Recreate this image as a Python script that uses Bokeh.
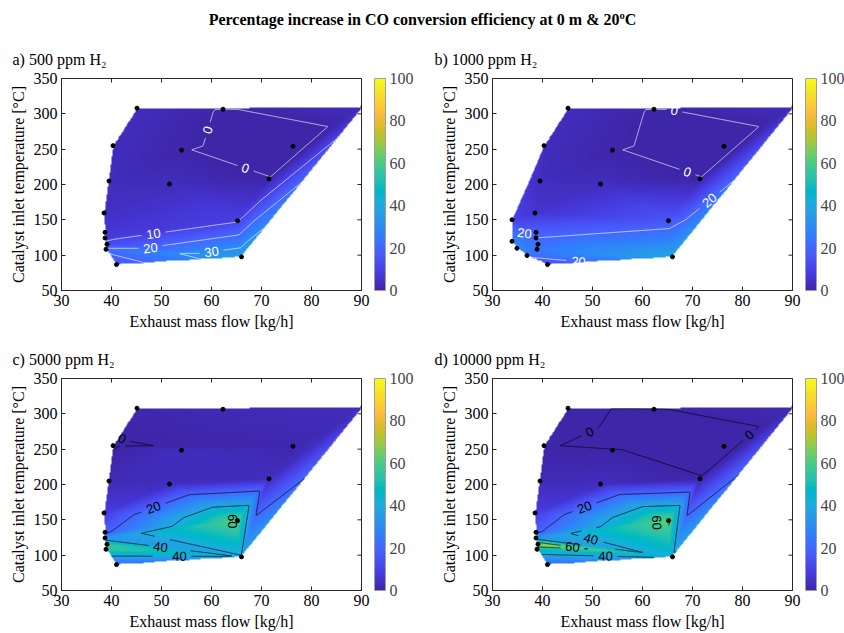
import numpy as np
import contourpy
from bokeh.plotting import figure
from bokeh.models import LinearColorMapper, ColorBar, Range1d, FixedTicker
from bokeh.layouts import column, row
from bokeh.embed import file_html
from bokeh.resources import INLINE
from bokeh.core.properties import value

SERIF = "Liberation Serif"
SANS = "Liberation Sans"
AX = "#262626"
FS = "16px"

# ---- measured operating points (exhaust mass flow [kg/h], inlet temperature [degC])
flow = [45.1, 62.3, 90.3, 40.3, 54.0, 76.3, 39.5, 51.6, 71.5, 38.5, 65.2, 38.7, 38.7, 39.1, 38.9, 66.0, 41.0]
temp = [308.0, 306.5, 310.0, 255.0, 248.6, 254.0, 205.0, 200.6, 208.0, 159.7, 148.8, 132.3, 124.4, 115.4, 108.3, 97.6, 86.7]
# additional low-flow points measured only for the 1000 ppm case
flow_extra_1000 = [33.9, 33.9, 34.9, 36.9]
temp_extra_1000 = [150.2, 119.6, 109.7, 99.4]

# ---- percentage increase in CO conversion efficiency at each point
inc_500 = [3.0, -0.3, 3.0, 3.0, 0.3, -3.0, 3.0, 3.0, 0.2, 4.0, 9.0, 6.0, 8.0, 12.0, 22.0, 37.0, 15.0]
inc_1000 = [3.0, -0.3, 3.0, 3.0, 0.3, -3.0, 3.0, 3.0, 0.2, 6.0, 15.0, 18.0, 20.0, 22.0, 25.0, 38.0, 12.0,
            10.0, 28.0, 30.0, 22.0]
inc_5000 = [1.0, 2.0, 3.0, -0.3, 3.0, 1.0, 2.0, 3.0, 3.0, 8.0, 61.5, 18.0, 32.0, 55.0, 56.0, 39.0, 20.0]
inc_10000 = [0.2, -0.2, 2.0, 0.2, 0.2, -2.0, 2.0, 3.0, 0.2, 8.0, 63.0, 18.0, 32.0, 72.0, 50.0, 42.0, 20.0]

panel_titles = ["a) 500 ppm H\u2082", "b) 1000 ppm H\u2082", "c) 5000 ppm H\u2082", "d) 10000 ppm H\u2082"]
suptitle = "Percentage increase in CO conversion efficiency at 0 m & 20\u00baC"
x_ticks = [30, 40, 50, 60, 70, 80, 90]
y_ticks = [50, 100, 150, 200, 250, 300, 350]
cbar_ticks = [0, 20, 40, 60, 80, 100]

# contour levels per panel
levels_500 = [0, 10, 20, 30]
levels_1000 = [0, 20, 40]
levels_5000 = [0, 20, 40, 60]
levels_10000 = [0, 20, 40, 60]

# approximate places for the inline contour labels: (level, flow, temperature)
labels_500 = [(0, 59.8, 276), (0, 66.0, 205), (10, 48.5, 125), (20, 47.8, 104), (30, 60.1, 102)]
labels_1000 = [(0, 66.1, 297), (0, 68.4, 206), (20, 73.5, 177), (20, 36.3, 125), (20, 47.3, 93)]
labels_5000 = [(0, 42.3, 268), (20, 48.8, 160), (40, 49.8, 113), (40, 53.5, 95), (60, 62.3, 144)]
labels_10000 = [(0, 49.9, 268), (0, 81.1, 271), (20, 48.8, 160), (60, 46.0, 111), (40, 49.5, 119),
                (40, 52.6, 95), (60, 62.1, 142)]

# parula colour table (64 entries), expanded to 256
PARULA64 = [
    (0.2422, 0.1504, 0.6603), (0.2504, 0.1650, 0.7076), (0.2578, 0.1818, 0.7511), (0.2647, 0.1978, 0.7952),
    (0.2706, 0.2147, 0.8364), (0.2751, 0.2342, 0.8710), (0.2783, 0.2559, 0.8991), (0.2803, 0.2782, 0.9221),
    (0.2813, 0.3006, 0.9414), (0.2810, 0.3228, 0.9579), (0.2795, 0.3447, 0.9717), (0.2760, 0.3667, 0.9829),
    (0.2699, 0.3892, 0.9906), (0.2602, 0.4123, 0.9952), (0.2440, 0.4358, 0.9988), (0.2206, 0.4603, 0.9973),
    (0.1963, 0.4847, 0.9892), (0.1834, 0.5074, 0.9798), (0.1786, 0.5289, 0.9682), (0.1764, 0.5499, 0.9520),
    (0.1687, 0.5703, 0.9359), (0.1540, 0.5902, 0.9218), (0.1460, 0.6091, 0.9079), (0.1380, 0.6276, 0.8973),
    (0.1248, 0.6459, 0.8883), (0.1113, 0.6635, 0.8763), (0.0952, 0.6798, 0.8598), (0.0689, 0.6948, 0.8394),
    (0.0297, 0.7082, 0.8163), (0.0036, 0.7203, 0.7917), (0.0067, 0.7312, 0.7660), (0.0433, 0.7411, 0.7394),
    (0.0964, 0.7500, 0.7120), (0.1408, 0.7584, 0.6842), (0.1717, 0.7670, 0.6554), (0.1938, 0.7758, 0.6251),
    (0.2161, 0.7843, 0.5923), (0.2470, 0.7918, 0.5567), (0.2906, 0.7973, 0.5188), (0.3406, 0.8008, 0.4789),
    (0.3909, 0.8029, 0.4354), (0.4456, 0.8024, 0.3909), (0.5044, 0.7993, 0.3480), (0.5616, 0.7942, 0.3045),
    (0.6174, 0.7876, 0.2612), (0.6720, 0.7793, 0.2227), (0.7242, 0.7698, 0.1910), (0.7738, 0.7598, 0.1646),
    (0.8203, 0.7498, 0.1535), (0.8634, 0.7406, 0.1596), (0.9035, 0.7330, 0.1774), (0.9393, 0.7288, 0.2100),
    (0.9728, 0.7298, 0.2394), (0.9956, 0.7434, 0.2371), (0.9970, 0.7659, 0.2199), (0.9952, 0.7893, 0.2028),
    (0.9892, 0.8136, 0.1885), (0.9786, 0.8386, 0.1766), (0.9676, 0.8639, 0.1643), (0.9610, 0.8890, 0.1537),
    (0.9597, 0.9135, 0.1423), (0.9628, 0.9373, 0.1265), (0.9691, 0.9606, 0.1064), (0.9769, 0.9839, 0.0805),
]


def build_palette(table, n=256):
    arr = np.array(table)
    t0 = np.linspace(0, 1, len(arr))
    t1 = np.linspace(0, 1, n)
    out = []
    for t in t1:
        rgb = [np.interp(t, t0, arr[:, k]) for k in range(3)]
        out.append("#%02x%02x%02x" % tuple(int(round(c * 255)) for c in rgb))
    return out


PARULA = build_palette(PARULA64)


def delaunay(px, py):
    """Bowyer-Watson triangulation in data units."""
    pts = np.column_stack([px, py]).astype(float)
    n = len(pts)
    mn, mx = pts.min(0), pts.max(0)
    span = max(mx - mn) * 200.0
    c = (mn + mx) / 2
    sup = np.array([[c[0] - span, c[1] - span], [c[0] + span, c[1] - span], [c[0], c[1] + span]])
    P = np.vstack([pts, sup])

    def circum(t):
        (ax, ay), (bx, by), (cx, cy) = P[list(t)]
        d = 2 * (ax * (by - cy) + bx * (cy - ay) + cx * (ay - by))
        ux = ((ax * ax + ay * ay) * (by - cy) + (bx * bx + by * by) * (cy - ay) + (cx * cx + cy * cy) * (ay - by)) / d
        uy = ((ax * ax + ay * ay) * (cx - bx) + (bx * bx + by * by) * (ax - cx) + (cx * cx + cy * cy) * (bx - ax)) / d
        return ux, uy, (ax - ux) ** 2 + (ay - uy) ** 2

    tris = [(n, n + 1, n + 2)]
    for i in range(n):
        x, y = P[i]
        bad = []
        for t in tris:
            ux, uy, r2 = circum(t)
            if (x - ux) ** 2 + (y - uy) ** 2 < r2 * (1 - 1e-12):
                bad.append(t)
        edges = {}
        for t in bad:
            for e in ((t[0], t[1]), (t[1], t[2]), (t[2], t[0])):
                k = tuple(sorted(e))
                edges[k] = edges.get(k, 0) + 1
        tris = [t for t in tris if t not in bad]
        for (a, b), cnt in edges.items():
            if cnt == 1:
                tris.append((a, b, i))
    return [t for t in tris if max(t) < n]


GX = np.linspace(30, 90, 301)
GY = np.linspace(50, 350, 301)


def interpolate(px, py, pz):
    X, Y = np.meshgrid(GX, GY)
    Z = np.full(X.shape, np.nan)
    px, py, pz = map(np.asarray, (px, py, pz))
    for i, j, k in delaunay(px, py):
        x1, y1, x2, y2, x3, y3 = px[i], py[i], px[j], py[j], px[k], py[k]
        det = (y2 - y3) * (x1 - x3) + (x3 - x2) * (y1 - y3)
        l1 = ((y2 - y3) * (X - x3) + (x3 - x2) * (Y - y3)) / det
        l2 = ((y3 - y1) * (X - x3) + (x1 - x3) * (Y - y3)) / det
        l3 = 1 - l1 - l2
        m = (l1 >= -1e-9) & (l2 >= -1e-9) & (l3 >= -1e-9)
        Z[m] = l1[m] * pz[i] + l2[m] * pz[j] + l3[m] * pz[k]
    return Z


SX = 300 / 60.0   # px per kg/h
SY = 212 / 300.0  # px per degC
TICK = 4          # inward tick length, px


def make_panel(title, px, py, pz, levels, line_color, label_spots, left, right, top, bottom, title_offset):
    Z = interpolate(px, py, pz)
    mapper = LinearColorMapper(palette=PARULA, low=0, high=100, nan_color="rgba(0,0,0,0)")

    p = figure(frame_width=300, frame_height=212, x_range=Range1d(30, 90), y_range=Range1d(50, 350),
               toolbar_location=None, output_backend="svg",
               min_border_left=left, min_border_right=right, min_border_top=top, min_border_bottom=bottom)
    p.image(image=[Z], x=30, y=50, dw=60, dh=300, color_mapper=mapper)

    # contour lines, with gaps around the inline labels
    gen = contourpy.contour_generator(GX, GY, np.ma.masked_invalid(Z), line_type="Separate")
    lx, ly, lt, la = [], [], [], []
    cut = {}
    for lev, ax_, ay_ in label_spots:
        best, bd = None, 1e9
        for s in gen.lines(lev):
            d = np.hypot((s[:, 0] - ax_) * SX, (s[:, 1] - ay_) * SY)
            k = int(np.argmin(d))
            if d[k] < bd:
                bd, best = d[k], (s, k)
        if best is None or bd > 25:
            continue
        s, k = best
        a, b = s[max(k - 4, 0)], s[min(k + 4, len(s) - 1)]
        ang = np.arctan2((b[1] - a[1]) * SY, (b[0] - a[0]) * SX)
        if ang > np.pi / 2:
            ang -= np.pi
        if ang < -np.pi / 2:
            ang += np.pi
        lx.append(s[k, 0]); ly.append(s[k, 1]); lt.append(str(lev)); la.append(ang)
        cut.setdefault(lev, []).append((s[k, 0], s[k, 1], 4 + 4 * len(str(lev))))

    xs, ys = [], []
    for lev in levels:
        for s in gen.lines(lev):
            keep = np.ones(len(s), bool)
            for cx, cy, r in cut.get(lev, []):
                keep &= np.hypot((s[:, 0] - cx) * SX, (s[:, 1] - cy) * SY) > r
            run = []
            for q, kp in zip(s, keep):
                if kp:
                    run.append(q)
                else:
                    if len(run) > 1:
                        xs.append([r[0] for r in run]); ys.append([r[1] for r in run])
                    run = []
            if len(run) > 1:
                xs.append([r[0] for r in run]); ys.append([r[1] for r in run])
    p.multi_line(xs, ys, line_color=line_color, line_width=0.8, line_alpha=0.85)
    p.text(x=lx, y=ly, text=lt, angle=la, text_color=line_color, text_font=value(SANS),
           text_font_size="13px", text_align="center", text_baseline="middle")

    p.scatter(px, py, size=4, color="black")

    # boxed axes with inward ticks (top and right ticks mirror the bottom/left ones)
    p.xgrid.visible = False
    p.ygrid.visible = False
    p.outline_line_color = AX
    nx, ny = len(x_ticks), len(y_ticks)
    p.segment(x0=x_ticks, y0=[350] * nx, x1=x_ticks, y1=[350 - TICK / SY] * nx, line_color=AX, line_width=1)
    p.segment(x0=[90] * ny, y0=y_ticks, x1=[90 - TICK / SX] * ny, y1=y_ticks, line_color=AX, line_width=1)
    p.xaxis.ticker = FixedTicker(ticks=x_ticks)
    p.yaxis.ticker = FixedTicker(ticks=y_ticks)
    p.xaxis.axis_label = "Exhaust mass flow [kg/h]"
    p.yaxis.axis_label = "Catalyst inlet temperature [\u00b0C]"
    for ax in (p.xaxis[0], p.yaxis[0]):
        ax.major_tick_in = TICK
        ax.major_tick_out = 0
        ax.minor_tick_line_color = None
        ax.axis_line_color = AX
        ax.major_tick_line_color = AX
        ax.major_label_text_font = SERIF
        ax.major_label_text_font_size = FS
        ax.major_label_text_color = "black"
        ax.axis_label_text_font = SERIF
        ax.axis_label_text_font_style = "normal"
        ax.axis_label_text_font_size = FS
        ax.axis_label_text_color = "black"
        ax.major_label_standoff = 4
        ax.axis_label_standoff = 4

    cb = ColorBar(color_mapper=mapper, ticker=FixedTicker(ticks=cbar_ticks), width=11, height=212,
                  padding=0, margin=0, location=(13, 0), major_label_text_font=SERIF,
                  major_label_text_font_size=FS, major_tick_line_color=None,
                  bar_line_color="#a0a0a0", label_standoff=4, background_fill_alpha=0,
                  border_line_color=None)
    p.add_layout(cb, "right")

    p.title.text = title
    p.title.align = "left"
    p.title.offset = title_offset
    p.title.standoff = 21
    p.title.text_color = "black"
    p.title.text_font = SERIF
    p.title.text_font_style = "normal"
    p.title.text_font_size = FS
    return p


head = figure(width=844, height=37, x_range=Range1d(0, 1), y_range=Range1d(0, 1),
              toolbar_location=None, output_backend="svg", min_border=0, outline_line_color=None)
head.axis.visible = False
head.grid.visible = False
head.text(x=[0.5], y=[0.5], text=[suptitle], text_font=value(SERIF), text_font_style="bold",
          text_font_size=FS, text_align="center", text_baseline="middle")

flow_1000 = flow + flow_extra_1000
temp_1000 = temp + temp_extra_1000

pa = make_panel(panel_titles[0], flow, temp, inc_500, levels_500, "white", labels_500, 61, 61, 41, 47, -49)
pb = make_panel(panel_titles[1], flow_1000, temp_1000, inc_1000, levels_1000, "white", labels_1000, 70, 52, 41, 47, -58)
pc = make_panel(panel_titles[2], flow, temp, inc_5000, levels_5000, "black", labels_5000, 61, 61, 41, 43, -49)
pd = make_panel(panel_titles[3], flow, temp, inc_10000, levels_10000, "black", labels_10000, 70, 52, 41, 43, -58)

layout = column(head, row(pa, pb), row(pc, pd))
open("out.html", "w").write(file_html(layout, INLINE))
